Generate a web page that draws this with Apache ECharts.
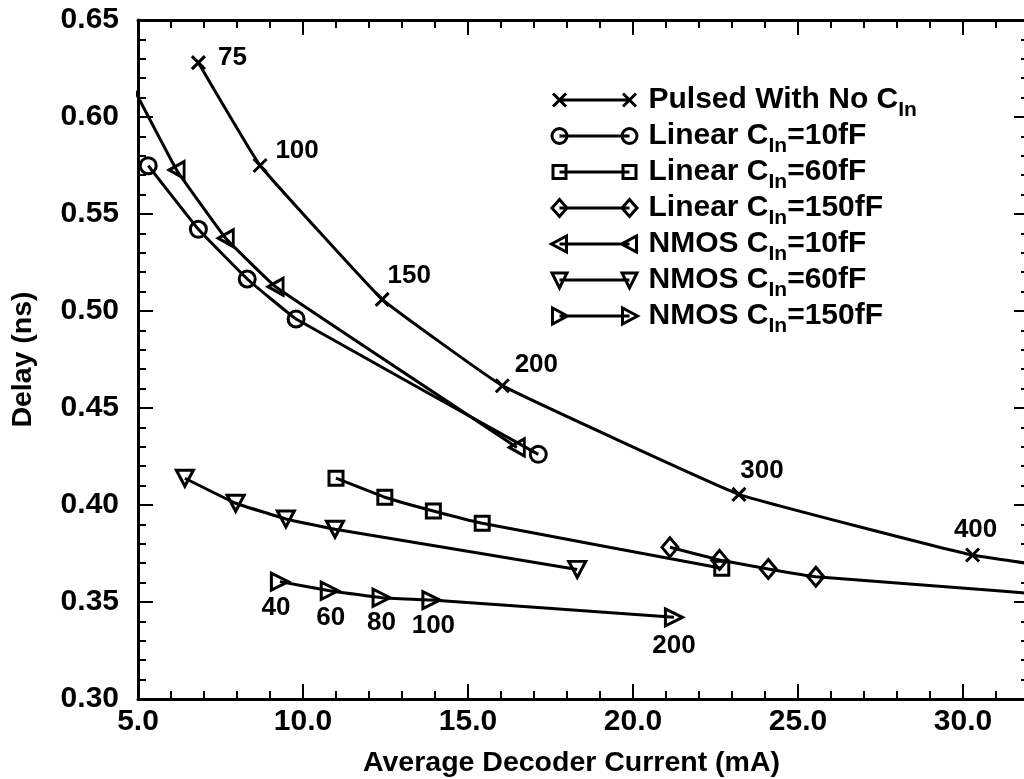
<!DOCTYPE html>
<html>
<head>
<meta charset="utf-8">
<script src="https://cdn.jsdelivr.net/npm/echarts@6/dist/echarts.min.js"></script>
<style>
  html, body { margin: 0; padding: 0; background: #fff; overflow: hidden; }
  /* the plot frame runs a few px past the right edge of the picture */
  #chart { width: 1040px; height: 779px; }
</style>
</head>
<body>
<div id="chart"></div>
<script>
// legend names, "C_In" is drawn as C with subscript In
const seriesNames = ['Pulsed With No C_In', 'Linear C_In=10fF', 'Linear C_In=60fF', 'Linear C_In=150fF',
  'NMOS C_In=10fF', 'NMOS C_In=60fF', 'NMOS C_In=150fF'];

// current (mA) / delay (ns)
const pulsedX = [6.83, 8.70, 12.40, 16.04, 23.21, 30.29, 37.0];
const pulsedY = [0.628, 0.575, 0.506, 0.4615, 0.4055, 0.3742, 0.358];
const pulsedLabels = ['75', '100', '150', '200', '300', '400', ''];

const linear10X = [5.31, 6.83, 8.31, 9.79, 17.13];
const linear10Y = [0.5749, 0.5421, 0.5165, 0.4959, 0.4261];

const linear60X = [11.0, 12.48, 13.95, 15.43, 22.69];
const linear60Y = [0.4138, 0.4040, 0.3969, 0.3906, 0.3674];

const linear150X = [21.12, 22.62, 24.10, 25.54, 37.0];
const linear150Y = [0.3782, 0.3717, 0.3670, 0.3630, 0.348];

const nmos10X = [4.6, 6.17, 7.66, 9.17, 16.48];
const nmos10Y = [0.6234, 0.5727, 0.5375, 0.5125, 0.4297];

const nmos60X = [6.42, 7.96, 9.48, 10.97, 18.31];
const nmos60Y = [0.4138, 0.4009, 0.3928, 0.3875, 0.3668];

const nmos150X = [9.30, 10.81, 12.38, 13.89, 21.24];
const nmos150Y = [0.3605, 0.3558, 0.3522, 0.3510, 0.3421];
const nmos150Labels = ['40', '60', '80', '100', '200'];

// axis ranges and ticks
const xMin = 5, xMax = 32, xStep = 5, xMinorStep = 1;
const yMin = 0.30, yMax = 0.65, yStep = 0.05, yMinorStep = 0.01;

// label placement (px from the point)
const pulsedLabelOffset = [[34, -5], [37, -15], [27, -24], [34, -21], [23, -24], [3, -25], [0, 0]];
const nmos150LabelOffset = [[-4, 26], [1, 27], [0, 25], [2, 26], [0, 29]];

const FONT = 'Liberation Sans, Arial, Helvetica, sans-serif';

// legend icons: symbol - line - symbol, in a 93x20 box
const draw = {
  cross: (x, y) => `M${x - 6.5} ${y - 6.5}L${x + 6.5} ${y + 6.5}M${x + 6.5} ${y - 6.5}L${x - 6.5} ${y + 6.5}`,
  circle: (x, y) => `M${x - 7.5} ${y}A7.5 7.5 0 1 0 ${x + 7.5} ${y}A7.5 7.5 0 1 0 ${x - 7.5} ${y}Z`,
  square: (x, y) => `M${x - 6.5} ${y - 6.5}L${x + 6.5} ${y - 6.5}L${x + 6.5} ${y + 6.5}L${x - 6.5} ${y + 6.5}Z`,
  diamond: (x, y) => `M${x} ${y - 8.5}L${x + 7.5} ${y}L${x} ${y + 8.5}L${x - 7.5} ${y}Z`,
  left: (x, y) => `M${x - 8} ${y}L${x + 7} ${y - 8}L${x + 7} ${y + 8}Z`,
  down: (x, y) => `M${x - 7.5} ${y - 7}L${x + 7.5} ${y - 7}L${x} ${y + 8}Z`,
  right: (x, y) => `M${x + 8} ${y}L${x - 7} ${y - 8}L${x - 7} ${y + 8}Z`
};
function legendIcon(f) {
  return 'path://M0 0M93 20' + f(9, 10) + 'M9 10L79 10' + f(79, 10);
}

function makeSeries(name, xs, ys, symbol, size, rotate, labels, offsets) {
  const data = xs.map((x, i) => {
    const item = { value: [x, ys[i]] };
    if (labels) {
      item.label = { show: true, formatter: labels[i], offset: offsets[i] };
    }
    return item;
  });
  return {
    name: name,
    type: 'line',
    xAxisIndex: 0,
    yAxisIndex: 0,
    data: data,
    symbol: symbol,
    symbolSize: size,
    symbolRotate: rotate,
    showAllSymbol: true,
    smooth: 0.08,
    clip: true,
    lineStyle: { color: '#000', width: 3 },
    itemStyle: { color: 'transparent', borderColor: '#000', borderWidth: 3 },
    label: {
      show: false, position: 'inside', align: 'center', verticalAlign: 'middle',
      color: '#000', fontFamily: FONT, fontWeight: 'bold', fontSize: 26
    },
    emphasis: { disabled: true }
  };
}

const series = [
  makeSeries(seriesNames[0], pulsedX, pulsedY, 'path://M0 0L10 10M10 0L0 10', 13, 0, pulsedLabels, pulsedLabelOffset),
  makeSeries(seriesNames[1], linear10X, linear10Y, 'circle', 16, 0),
  makeSeries(seriesNames[2], linear60X, linear60Y, 'rect', 14, 0),
  makeSeries(seriesNames[3], linear150X, linear150Y, 'diamond', [16, 19], 0),
  makeSeries(seriesNames[4], nmos10X, nmos10Y, 'triangle', [17, 15], 90),
  makeSeries(seriesNames[5], nmos60X, nmos60Y, 'triangle', [17, 16], 180),
  makeSeries(seriesNames[6], nmos150X, nmos150Y, 'triangle', [17, 17], -90, nmos150Labels, nmos150LabelOffset)
];
const icons = [draw.cross, draw.circle, draw.square, draw.diamond, draw.left, draw.down, draw.right];

const axisText = { color: '#000', fontFamily: FONT, fontWeight: 'bold' };
const line3 = { color: '#000', width: 3 };
const tick2 = { color: '#000', width: 2 };

function xAx(pos, step, tickLen, withLine, withLabel) {
  return {
    type: 'value', position: pos, min: xMin, max: xMax, interval: step,
    axisLine: { show: withLine, onZero: false, lineStyle: line3 },
    axisTick: { show: true, inside: true, length: tickLen, lineStyle: tick2 },
    axisLabel: Object.assign({ show: withLabel, margin: 8, fontSize: 30, showMaxLabel: false,
      formatter: v => v.toFixed(1) }, axisText),
    splitLine: { show: false }
  };
}
function yAx(pos, step, tickLen, withLine, withLabel) {
  return {
    type: 'value', position: pos, min: yMin, max: yMax, interval: step,
    axisLine: { show: withLine, onZero: false, lineStyle: line3 },
    axisTick: { show: true, inside: true, length: tickLen, lineStyle: tick2 },
    axisLabel: Object.assign({ show: withLabel, margin: 19, fontSize: 30,
      formatter: v => v.toFixed(2) }, axisText),
    splitLine: { show: false }
  };
}

const xMain = xAx('bottom', xStep, 15, true, true);
xMain.name = 'Average Decoder Current (mA)';
xMain.nameLocation = 'middle';
xMain.nameGap = 50;
xMain.nameTextStyle = Object.assign({ fontSize: 28.5, padding: [0, 24, 0, 0] }, axisText);

const yMain = yAx('left', yStep, 15, true, true);
yMain.name = 'Delay (ns)';
yMain.nameLocation = 'middle';
yMain.nameGap = 100;
yMain.nameTextStyle = Object.assign({ fontSize: 28.5 }, axisText);

const chart = echarts.init(document.getElementById('chart'), null, { renderer: 'canvas' });
chart.setOption({
  animation: false,
  backgroundColor: '#fff',
  grid: { left: 138, top: 20, right: 11, bottom: 80, outerBoundsMode: 'none' },
  xAxis: [
    xMain,
    xAx('bottom', xMinorStep, 8, false, false),
    xAx('top', xStep, 15, true, false),
    xAx('top', xMinorStep, 8, false, false)
  ],
  yAxis: [
    yMain,
    yAx('left', yMinorStep, 8, false, false),
    yAx('right', yStep, 15, true, false),
    yAx('right', yMinorStep, 8, false, false)
  ],
  legend: {
    orient: 'vertical',
    left: 549,
    top: 85,
    padding: 0,
    itemWidth: 93,
    itemHeight: 20,
    itemGap: 0,
    selectedMode: false,
    itemStyle: { color: 'transparent', borderColor: '#000', borderWidth: 3 },
    data: seriesNames.map((n, i) => ({ name: n, icon: legendIcon(icons[i]) })),
    formatter: function (name) {
      const parts = name.split('C_In');
      return '{m|' + parts[0] + 'C}{s|In}' + (parts[1] ? '{m|' + parts[1] + '}' : '');
    },
    textStyle: {
      color: '#000', fontFamily: FONT, fontWeight: 'bold', fontSize: 30,
      rich: {
        m: { color: '#000', fontFamily: FONT, fontWeight: 'bold', fontSize: 30, lineHeight: 30, verticalAlign: 'top' },
        s: { color: '#000', fontFamily: FONT, fontWeight: 'bold', fontSize: 21, lineHeight: 21,
          padding: [15, 0, 0, 0], verticalAlign: 'top' }
      }
    }
  },
  series: series
});
</script>
</body>
</html>
